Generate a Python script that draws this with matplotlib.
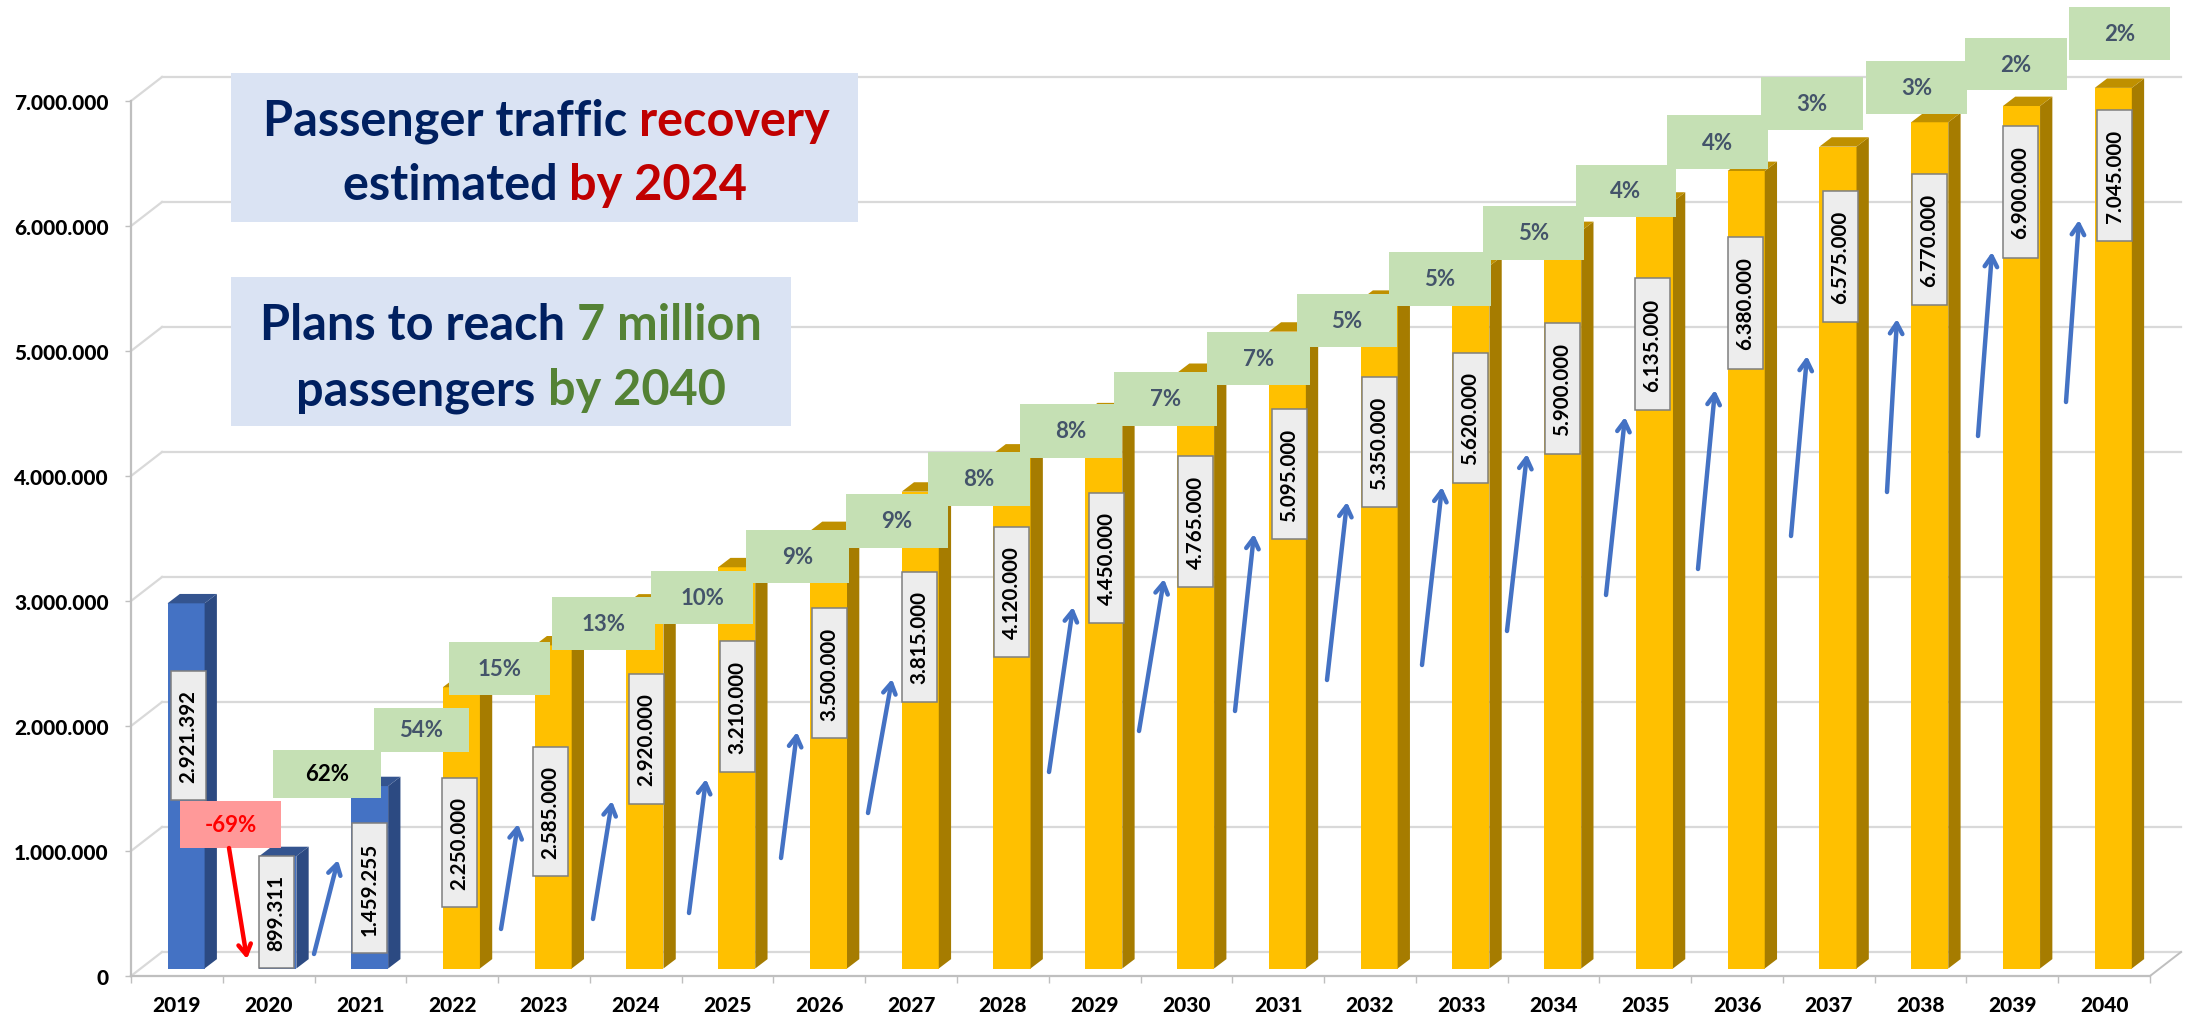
import matplotlib
matplotlib.use('Agg')
import matplotlib.pyplot as plt
from matplotlib.patches import Rectangle

#Data
years=[2019,2020,2021,2022,2023,2024,2025,2026,2027,2028,2029,2030,2031,2032,2033,2034,2035,2036,2037,2038,2039,2040]
passengers=[2921392,899311,1459255,2250000,2585000,2920000,3210000,3500000,3815000,4120000,4450000,4765000,5095000,5350000,5620000,5900000,6135000,6380000,6575000,6770000,6900000,7045000]
changes=[-69,62,54,15,13,10,9,9,8,8,7,7,5,5,5,4,4,3,3,2,2]
yticks=[0,1000000,2000000,3000000,4000000,5000000,6000000,7000000]
n_actual=3

#Callout layout, in image pixels
value_left=[171,259,352,442,533,629,720,812,902,994,1089,1178,1272,1362,1453,1545,1635,1728,1823,1912,2003,2097]
value_top=[672,857,824,779,748,675,642,609,573,528,494,457,410,378,354,324,279,238,192,175,127,111]
value_bottom=[801,969,954,908,877,805,773,739,703,658,624,588,540,508,484,455,411,370,323,306,259,242]
pct_left=[180,273,374,449,552,651,746,846,928,1020,1114,1207,1297,1389,1483,1576,1667,1761,1866,1965,2069]
pct_right=[281,381,469,550,655,753,849,948,1030,1122,1217,1310,1397,1491,1584,1676,1768,1863,1967,2067,2170]
pct_top=[802,751,709,643,598,572,531,495,453,405,373,333,295,253,207,166,116,78,62,39,8]
pct_bottom=[849,799,753,696,651,625,584,549,507,459,427,386,348,307,261,218,170,131,115,91,61]
arrow_x0=[314,501,593,689,781,868,1049,1139,1235,1327,1422,1507,1606,1698,1791,1887,1978,2066]
arrow_y0=[955,930,920,914,859,814,773,732,712,681,666,632,596,570,537,493,437,403]
arrow_x1=[338,518,612,706,797,892,1073,1164,1254,1347,1442,1527,1625,1715,1807,1897,1992,2079]
arrow_y1=[861,825,802,780,733,680,608,580,535,503,488,455,418,391,357,320,253,221]

W,H=2192,1020
NUM_FONT='Lato'
GRID='#D9D9D9'
AXIS='#BFBFBF'

fig=plt.figure(figsize=(W/100,H/100),dpi=100,facecolor='white')
ax=fig.add_axes([131/W,(H-977)/H,(2150-131)/W,875/H])
ax.set_xlim(-0.5,21.5)
ax.set_ylim(0,7000000)

#3D look: depth of the wall and of the bars, in data units
wall_dx=0.338
wall_dy=192000
bar_dx=0.134
bar_dy=75000
bar_w=0.404
bar_shift=0.1
bar_base=60000

#back wall
for v in yticks:
    ax.plot([-0.5+wall_dx,21.5+wall_dx],[v+wall_dy,v+wall_dy],color=GRID,lw=1.6,zorder=1,clip_on=False)
    ax.plot([-0.5,-0.5+wall_dx],[v,v+wall_dy],color=GRID,lw=1.6,zorder=1,clip_on=False)
ax.plot([21.5,21.5+wall_dx],[0,wall_dy],color=AXIS,lw=1.4,zorder=1,clip_on=False)

#bars
for i,v in enumerate(passengers):
    if i<n_actual:
        front,side,top='#4472C4','#2C4A82','#34548F'
    else:
        front,side,top='#FFC000','#A67C00','#BF9000'
    l=i+bar_shift-bar_w/2
    r=i+bar_shift+bar_w/2
    ax.bar(i+bar_shift,v,width=bar_w,bottom=bar_base,color=front,zorder=3,clip_on=False)
    ax.fill([r,r+bar_dx,r+bar_dx,r],[bar_base,bar_base+bar_dy,bar_base+v+bar_dy,bar_base+v],color=side,lw=0,zorder=3,clip_on=False)
    ax.fill([l,r,r+bar_dx,l+bar_dx],[bar_base+v,bar_base+v,bar_base+v+bar_dy,bar_base+v+bar_dy],color=top,lw=0,zorder=3,clip_on=False)

#axes
for s in ['top','right']:
    ax.spines[s].set_visible(False)
for s in ['left','bottom']:
    ax.spines[s].set_color(AXIS)
    ax.spines[s].set_linewidth(1.6)
ax.patch.set_visible(False)
ax.set_yticks(yticks)
ax.set_yticklabels([f'{v:,}'.replace(',','.') for v in yticks],fontfamily=NUM_FONT,fontweight='black',fontsize=15)
ax.tick_params(axis='y',length=4.5,width=1,color=AXIS,pad=11.5)
ax.set_xticks(range(len(years)))
ax.set_xticklabels([str(y) for y in years],fontfamily=NUM_FONT,fontweight='black',fontsize=15)
ax.tick_params(axis='x',length=0,pad=13.5)
ax.set_xticks([i-0.5 for i in range(len(years)+1)],minor=True)
ax.tick_params(axis='x',which='minor',length=5,width=1,color=AXIS)

#overlay in image pixels for the callouts
ov=fig.add_axes([0,0,1,1])
ov.set_xlim(0,W)
ov.set_ylim(H,0)
ov.axis('off')
ov.patch.set_visible(False)

for i,v in enumerate(passengers):
    b_w=35
    ov.add_patch(Rectangle((value_left[i],value_top[i]),b_w,value_bottom[i]-value_top[i],fc='#EDEDED',ec='#7F7F7F',lw=1.1,zorder=5))
    ov.text(value_left[i]+b_w/2,(value_top[i]+value_bottom[i])/2,f'{v:,}'.replace(',','.'),rotation=90,ha='center',va='center',
            fontfamily=NUM_FONT,fontweight='bold',fontsize=14.8,color='black',zorder=6)

for i,c in enumerate(changes):
    fc='#FF9999' if c<0 else '#C5E0B4'
    col='#FF0000' if c<0 else ('black' if c==62 else '#44546A')
    ov.add_patch(Rectangle((pct_left[i],pct_top[i]),pct_right[i]-pct_left[i],pct_bottom[i]-pct_top[i],fc=fc,ec='none',zorder=7))
    ov.text((pct_left[i]+pct_right[i])/2,(pct_top[i]+pct_bottom[i])/2,f'{c}%',ha='center',va='center',
            fontfamily=NUM_FONT,fontweight='bold',fontsize=16,color=col,zorder=8)

for x0,y0,x1,y1 in zip(arrow_x0,arrow_y0,arrow_x1,arrow_y1):
    ov.annotate('',xy=(x1,y1),xytext=(x0,y0),zorder=9,
                arrowprops=dict(arrowstyle='->,head_length=0.75,head_width=0.45',color='#4472C4',lw=3.2,shrinkA=0,shrinkB=0))
ov.annotate('',xy=(247,960),xytext=(229,849),zorder=9,
            arrowprops=dict(arrowstyle='->,head_length=0.75,head_width=0.45',color='#FF0000',lw=3.2,shrinkA=0,shrinkB=0))

#headline boxes
NAVY='#002060'
RED='#C00000'
GREEN='#548235'
ov.add_patch(Rectangle((231,74),627,149,fc='#DAE3F3',ec='none',zorder=4))
ov.add_patch(Rectangle((231,278),560,149,fc='#DAE3F3',ec='none',zorder=4))

def colour_line(parts,cx,cy):
    renderer=fig.canvas.get_renderer()
    items=[]
    total=0
    for s,col in parts:
        t=ov.text(0,cy,s,ha='left',va='center_baseline',fontfamily=NUM_FONT,fontweight='bold',fontsize=35,color=col,zorder=6)
        # trailing spaces are not measured, swap them for no-break ones
        w,_,_=renderer.get_text_width_height_descent(s.replace(' ','\u00a0'),t.get_fontproperties(),False)
        items.append((t,w))
        total+=w
    x=cx-total/2
    for t,w in items:
        t.set_x(x)
        x+=w

colour_line([('Passenger traffic ',NAVY),('recovery',RED)],546,117)
colour_line([('estimated ',NAVY),('by 2024',RED)],545,182)
colour_line([('Plans to reach ',NAVY),('7 million',GREEN)],511,322)
colour_line([('passengers ',NAVY),('by 2040',GREEN)],511,387)

fig.savefig('out.png',dpi=100,facecolor='white')
